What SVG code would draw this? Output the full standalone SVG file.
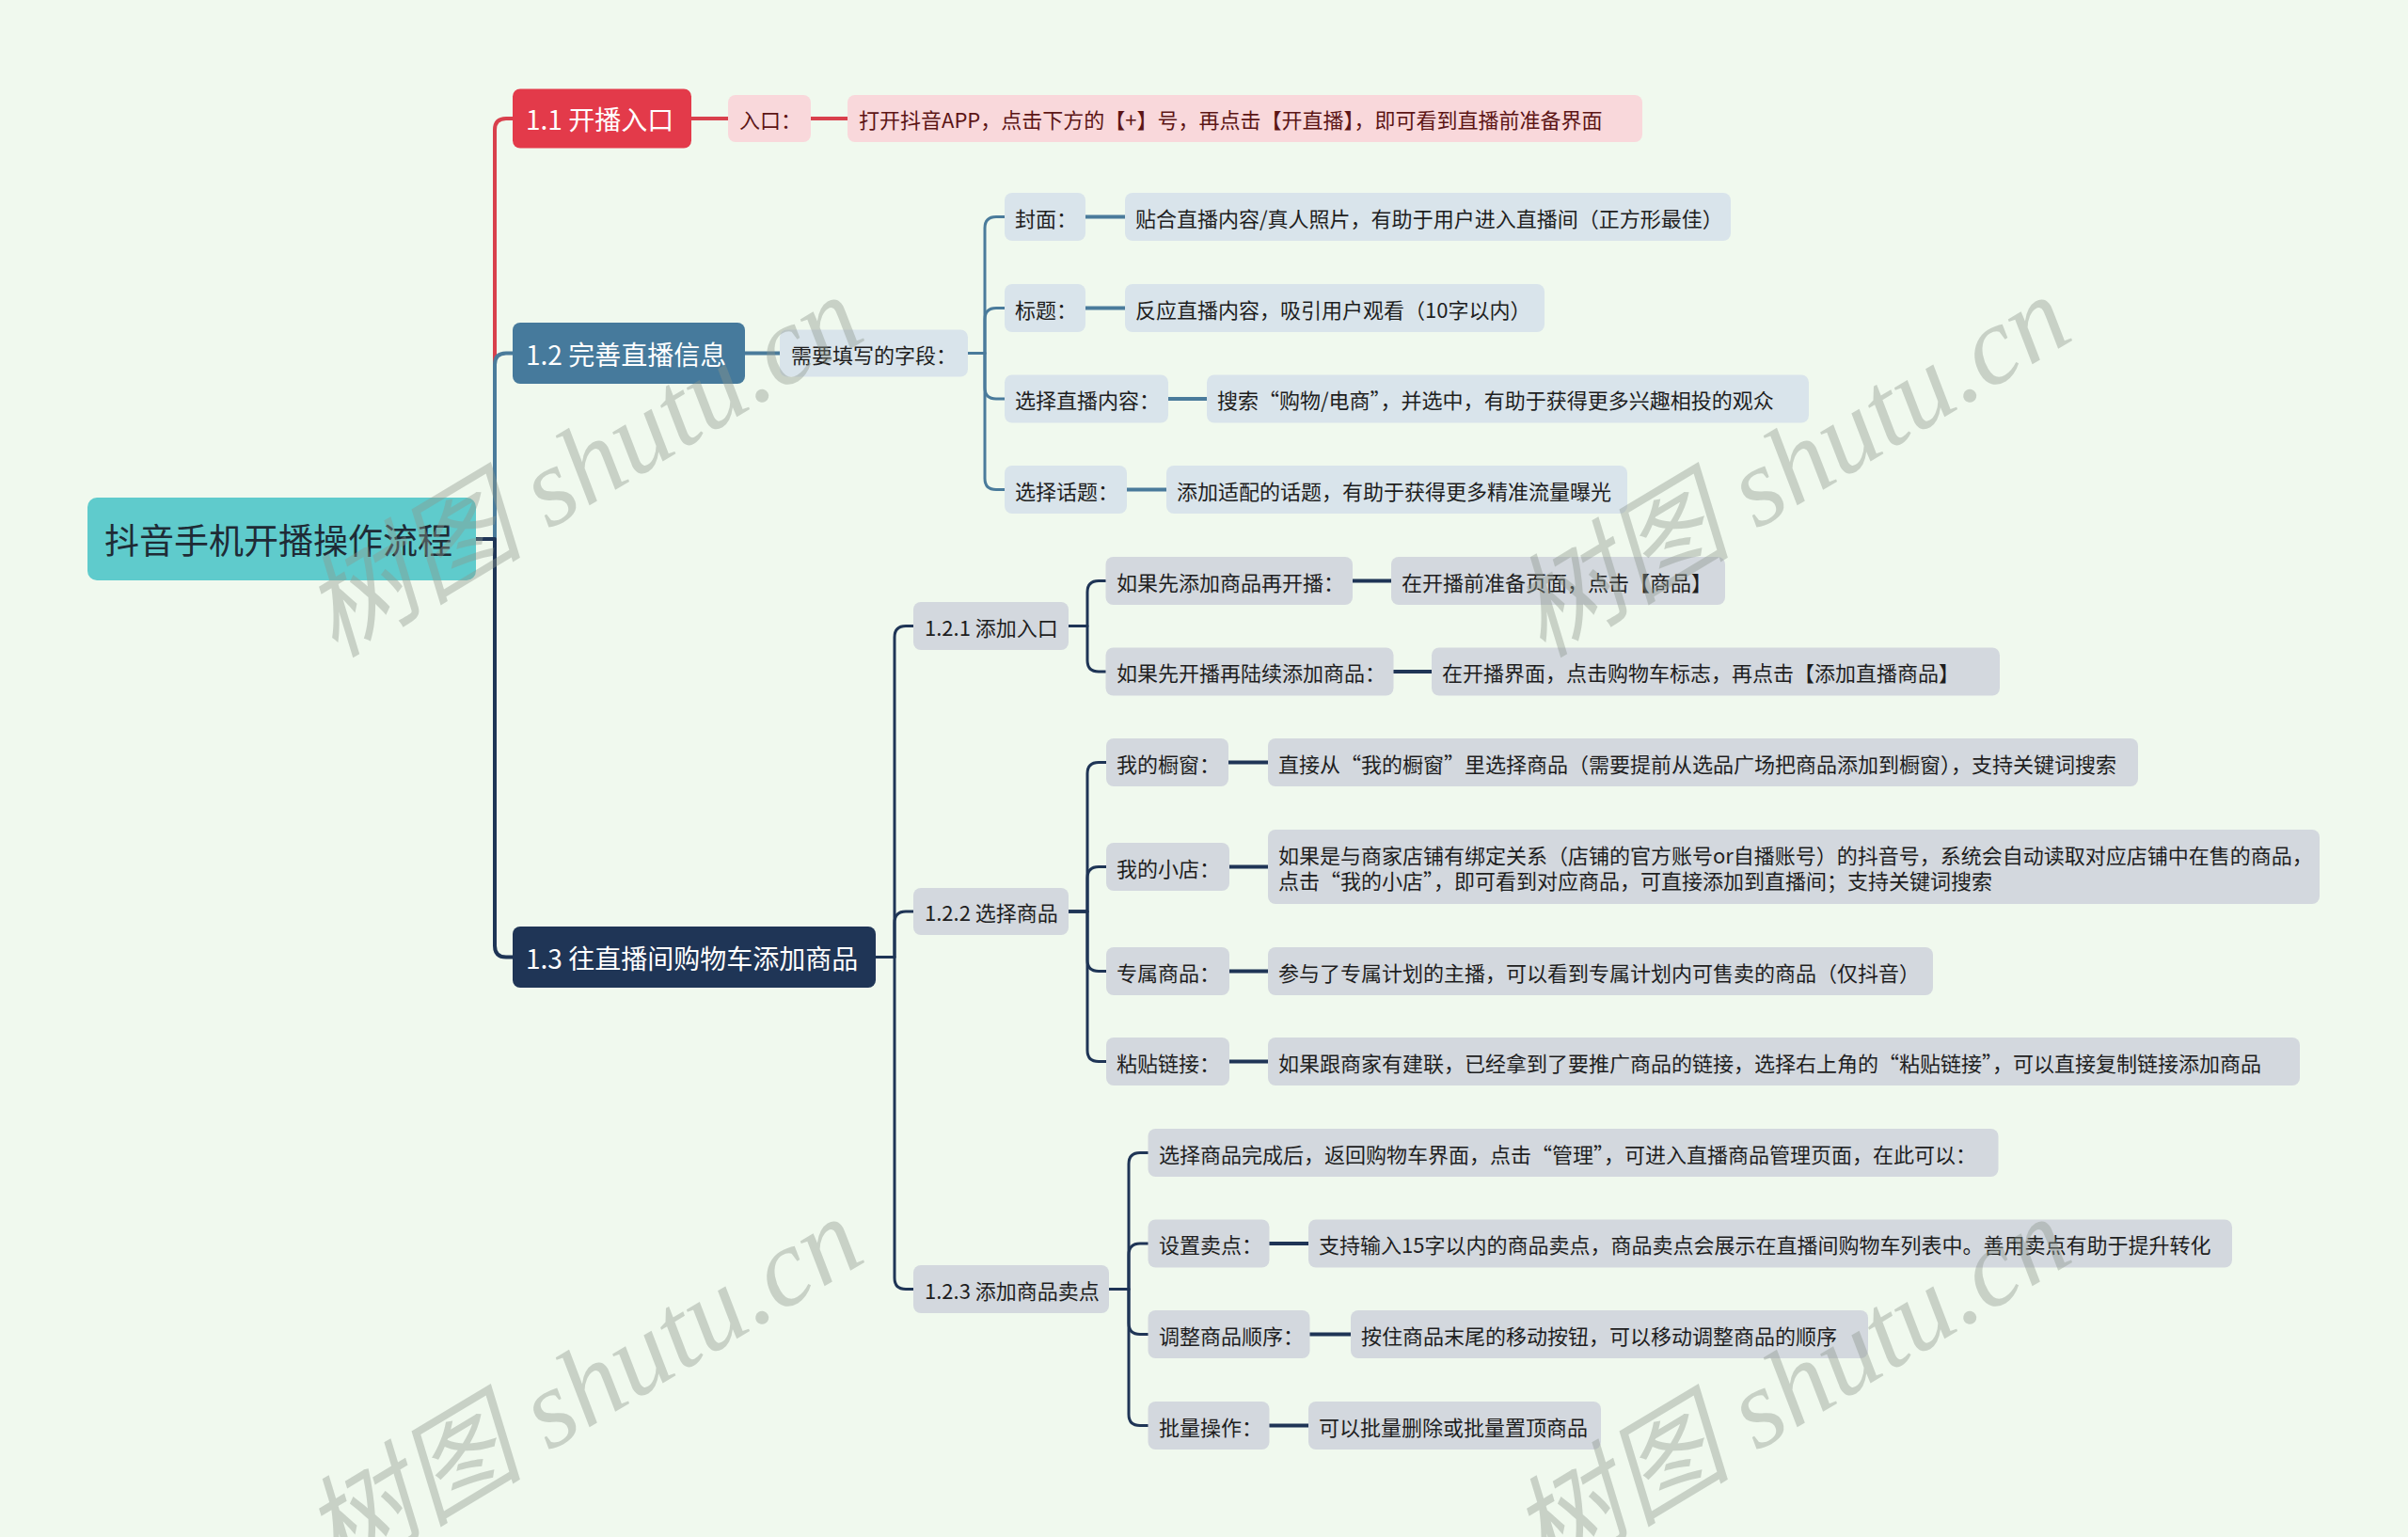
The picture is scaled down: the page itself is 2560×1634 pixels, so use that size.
<svg xmlns="http://www.w3.org/2000/svg" width="2560" height="1634" viewBox="0 0 2560 1634">
<style>
text{font-family:"Noto Sans CJK SC","Noto Sans",sans-serif;dominant-baseline:central}
.root rect{fill:#5fcbcc}
.root text{font-size:37px;fill:#1f2b36}
.l1 text{font-size:28px;fill:#ffffff}
.red rect{fill:#e33a4a}
.blu rect{fill:#467a9c}
.nav rect{fill:#1f3556}
.pk rect{fill:#f9d8db}
.pk text{fill:#5c1515}
.lb rect{fill:#d9e4eb}
.gr rect{fill:#d3d8de}
.sm text{font-size:22px;fill:#1e1e1e}
.pk.sm text{fill:#5c1515}
.c{fill:none;stroke-linecap:round;stroke-linejoin:round}
.cr{stroke:#d9404c}
.cb{stroke:#4a7b9b}
.cn{stroke:#1f3556}
.w4{stroke-width:4}
.w3{stroke-width:3}
.wm text{font-family:"Liberation Serif","Noto Sans CJK SC",serif;font-style:italic;font-size:118px;fill:#8d978d;opacity:0.4;dominant-baseline:auto}
</style>
<rect x="0" y="0" width="2560" height="1634" fill="#f0f9ee"/>

<g id="connectors">
  <path class="c cr w4" d="M506,573 H526 V138 Q526,126 538,126 H545"/>
  <path class="c cb w4" d="M506,573 H526 V387.5 Q526,375.5 538,375.5 H545"/>
  <path class="c cn w4" d="M506,573 H526 V1005.5 Q526,1017.5 538,1017.5 H545"/>
  <path class="c cr w4" d="M735,126 H774"/>
  <path class="c cr w4" d="M862,126 H901"/>
  <path class="c cb w4" d="M792,375.5 H829"/>
  <path class="c cb w3" d="M1029,375.5 H1047 V242.5 Q1047,230.5 1059,230.5 H1068"/>
  <path class="c cb w3" d="M1029,375.5 H1047 V339.5 Q1047,327.5 1059,327.5 H1068"/>
  <path class="c cb w3" d="M1029,375.5 H1047 V412 Q1047,424 1059,424 H1068"/>
  <path class="c cb w3" d="M1029,375.5 H1047 V508.5 Q1047,520.5 1059,520.5 H1068"/>
  <path class="c cb w4" d="M1154,230.5 H1196"/>
  <path class="c cb w4" d="M1154,327.5 H1196"/>
  <path class="c cb w4" d="M1242,424 H1283"/>
  <path class="c cb w4" d="M1198,520.5 H1240"/>
  <path class="c cn w3" d="M931,1017.5 H951 V677.5 Q951,665.5 963,665.5 H971"/>
  <path class="c cn w3" d="M931,1017.5 H951 V981 Q951,969 963,969 H971"/>
  <path class="c cn w3" d="M931,1017.5 H951 V1358.5 Q951,1370.5 963,1370.5 H971"/>
  <path class="c cn w3" d="M1136,665.5 H1156 V629.5 Q1156,617.5 1168,617.5 H1175.5"/>
  <path class="c cn w3" d="M1136,665.5 H1156 V702 Q1156,714 1168,714 H1175.5"/>
  <path class="c cn w4" d="M1438,617.5 H1479"/>
  <path class="c cn w4" d="M1481.5,714 H1522"/>
  <path class="c cn w3" d="M1136,969 H1156 V822.5 Q1156,810.5 1168,810.5 H1176"/>
  <path class="c cn w3" d="M1136,969 H1156 V933.5 Q1156,921.5 1168,921.5 H1176"/>
  <path class="c cn w3" d="M1136,969 H1156 V1020.5 Q1156,1032.5 1168,1032.5 H1176"/>
  <path class="c cn w3" d="M1136,969 H1156 V1116.5 Q1156,1128.5 1168,1128.5 H1176"/>
  <path class="c cn w4" d="M1306,810.5 H1348"/>
  <path class="c cn w4" d="M1307,921.5 H1348"/>
  <path class="c cn w4" d="M1307,1032.5 H1348"/>
  <path class="c cn w4" d="M1307,1128.5 H1348"/>
  <path class="c cn w3" d="M1179,1370.5 H1200 V1237.5 Q1200,1225.5 1212,1225.5 H1220.5"/>
  <path class="c cn w3" d="M1179,1370.5 H1200 V1334 Q1200,1322 1212,1322 H1220.5"/>
  <path class="c cn w3" d="M1179,1370.5 H1200 V1406.5 Q1200,1418.5 1212,1418.5 H1220.5"/>
  <path class="c cn w3" d="M1179,1370.5 H1200 V1503.5 Q1200,1515.5 1212,1515.5 H1220.5"/>
  <path class="c cn w4" d="M1349.5,1322 H1391"/>
  <path class="c cn w4" d="M1392.5,1418.5 H1436"/>
  <path class="c cn w4" d="M1349.5,1515.5 H1391"/>
</g>

<g id="root" class="root"><rect x="93" y="529" width="413" height="88" rx="10"/><text x="111" y="573">抖音手机开播操作流程</text></g>

<g id="n1-1" class="l1 red"><rect x="545" y="94.5" width="190" height="63" rx="8"/><text x="559" y="126">1.1 开播入口</text></g>
<g id="n1-2" class="l1 blu"><rect x="545" y="343" width="247" height="65" rx="8"/><text x="559" y="375.5">1.2 完善直播信息</text></g>
<g id="n1-3" class="l1 nav"><rect x="545" y="985" width="386" height="65" rx="8"/><text x="559" y="1017.5">1.3 往直播间购物车添加商品</text></g>

<g id="n-rukou" class="pk sm"><rect x="774" y="101" width="88" height="50" rx="8"/><text x="786" y="126">入口：</text></g>
<g id="n-rukou-d" class="pk sm"><rect x="901" y="101" width="845" height="50" rx="8"/><text x="913" y="126">打开抖音APP，点击下方的【+】号，再点击【开直播】，即可看到直播前准备界面</text></g>

<g id="n-ziduan" class="lb sm"><rect x="829" y="350.5" width="200" height="50" rx="8"/><text x="841" y="375.5">需要填写的字段：</text></g>
<g id="n-fengmian" class="lb sm"><rect x="1068" y="205" width="86" height="51" rx="8"/><text x="1079" y="230.5">封面：</text></g>
<g id="n-fengmian-d" class="lb sm"><rect x="1196" y="205" width="644" height="51" rx="8"/><text x="1207" y="230.5">贴合直播内容/真人照片，有助于用户进入直播间（正方形最佳）</text></g>
<g id="n-biaoti" class="lb sm"><rect x="1068" y="302" width="86" height="51" rx="8"/><text x="1079" y="327.5">标题：</text></g>
<g id="n-biaoti-d" class="lb sm"><rect x="1196" y="302" width="446" height="51" rx="8"/><text x="1207" y="327.5">反应直播内容，吸引用户观看（10字以内）</text></g>
<g id="n-neirong" class="lb sm"><rect x="1068" y="398.5" width="174" height="51" rx="8"/><text x="1079" y="424">选择直播内容：</text></g>
<g id="n-neirong-d" class="lb sm"><rect x="1283" y="398.5" width="640" height="51" rx="8"/><text x="1294" y="424">搜索“购物/电商”，并选中，有助于获得更多兴趣相投的观众</text></g>
<g id="n-huati" class="lb sm"><rect x="1068" y="495" width="130" height="51" rx="8"/><text x="1079" y="520.5">选择话题：</text></g>
<g id="n-huati-d" class="lb sm"><rect x="1240" y="495" width="490" height="51" rx="8"/><text x="1251" y="520.5">添加适配的话题，有助于获得更多精准流量曝光</text></g>

<g id="n-121" class="gr sm"><rect x="971" y="640" width="165" height="51" rx="8"/><text x="983" y="665.5">1.2.1 添加入口</text></g>
<g id="n-121a" class="gr sm"><rect x="1175.5" y="592" width="262.5" height="51" rx="8"/><text x="1187" y="617.5">如果先添加商品再开播：</text></g>
<g id="n-121a-d" class="gr sm"><rect x="1479" y="592" width="355" height="51" rx="8"/><text x="1490" y="617.5">在开播前准备页面，点击【商品】</text></g>
<g id="n-121b" class="gr sm"><rect x="1175.5" y="688.5" width="306" height="51" rx="8"/><text x="1187" y="714">如果先开播再陆续添加商品：</text></g>
<g id="n-121b-d" class="gr sm"><rect x="1522" y="688.5" width="604" height="51" rx="8"/><text x="1533" y="714">在开播界面，点击购物车标志，再点击【添加直播商品】</text></g>

<g id="n-122" class="gr sm"><rect x="971" y="944" width="165" height="50" rx="8"/><text x="983" y="969">1.2.2 选择商品</text></g>
<g id="n-chuchuang" class="gr sm"><rect x="1176" y="785" width="130" height="51" rx="8"/><text x="1187" y="810.5">我的橱窗：</text></g>
<g id="n-chuchuang-d" class="gr sm"><rect x="1348" y="785" width="925" height="51" rx="8"/><text x="1359" y="810.5">直接从“我的橱窗”里选择商品（需要提前从选品广场把商品添加到橱窗），支持关键词搜索</text></g>
<g id="n-xiaodian" class="gr sm"><rect x="1176" y="896" width="131" height="51" rx="8"/><text x="1187" y="921.5">我的小店：</text></g>
<g id="n-xiaodian-d" class="gr sm"><rect x="1348" y="882" width="1118" height="79" rx="8"/><text x="1359" y="908">如果是与商家店铺有绑定关系（店铺的官方账号or自播账号）的抖音号，系统会自动读取对应店铺中在售的商品，</text><text x="1359" y="935">点击“我的小店”，即可看到对应商品，可直接添加到直播间；支持关键词搜索</text></g>
<g id="n-zhuanshu" class="gr sm"><rect x="1176" y="1007" width="131" height="51" rx="8"/><text x="1187" y="1032.5">专属商品：</text></g>
<g id="n-zhuanshu-d" class="gr sm"><rect x="1348" y="1007" width="707" height="51" rx="8"/><text x="1359" y="1032.5">参与了专属计划的主播，可以看到专属计划内可售卖的商品（仅抖音）</text></g>
<g id="n-zhantie" class="gr sm"><rect x="1176" y="1103" width="131" height="51" rx="8"/><text x="1187" y="1128.5">粘贴链接：</text></g>
<g id="n-zhantie-d" class="gr sm"><rect x="1348" y="1103" width="1097" height="51" rx="8"/><text x="1359" y="1128.5">如果跟商家有建联，已经拿到了要推广商品的链接，选择右上角的“粘贴链接”，可以直接复制链接添加商品</text></g>

<g id="n-123" class="gr sm"><rect x="971" y="1345" width="208" height="51" rx="8"/><text x="983" y="1370.5">1.2.3 添加商品卖点</text></g>
<g id="n-guanli" class="gr sm"><rect x="1220.5" y="1200" width="904" height="51" rx="8"/><text x="1232" y="1225.5">选择商品完成后，返回购物车界面，点击“管理”，可进入直播商品管理页面，在此可以：</text></g>
<g id="n-maidian" class="gr sm"><rect x="1220.5" y="1296.5" width="129" height="51" rx="8"/><text x="1232" y="1322">设置卖点：</text></g>
<g id="n-maidian-d" class="gr sm"><rect x="1391" y="1296.5" width="982" height="51" rx="8"/><text x="1402" y="1322">支持输入15字以内的商品卖点，商品卖点会展示在直播间购物车列表中。善用卖点有助于提升转化</text></g>
<g id="n-shunxu" class="gr sm"><rect x="1220.5" y="1393" width="172" height="51" rx="8"/><text x="1232" y="1418.5">调整商品顺序：</text></g>
<g id="n-shunxu-d" class="gr sm"><rect x="1436" y="1393" width="550" height="51" rx="8"/><text x="1447" y="1418.5">按住商品末尾的移动按钮，可以移动调整商品的顺序</text></g>
<g id="n-piliang" class="gr sm"><rect x="1220.5" y="1490" width="129" height="51" rx="8"/><text x="1232" y="1515.5">批量操作：</text></g>
<g id="n-piliang-d" class="gr sm"><rect x="1391" y="1490" width="311" height="51" rx="8"/><text x="1402" y="1515.5">可以批量删除或批量置顶商品</text></g>

<g class="wm">
  <text transform="translate(356,700) rotate(-31)">树图 shutu.cn</text>
  <text transform="translate(1640,700) rotate(-31)">树图 shutu.cn</text>
  <text transform="translate(356,1680) rotate(-31)">树图 shutu.cn</text>
  <text transform="translate(1640,1680) rotate(-31)">树图 shutu.cn</text>
</g>
</svg>
